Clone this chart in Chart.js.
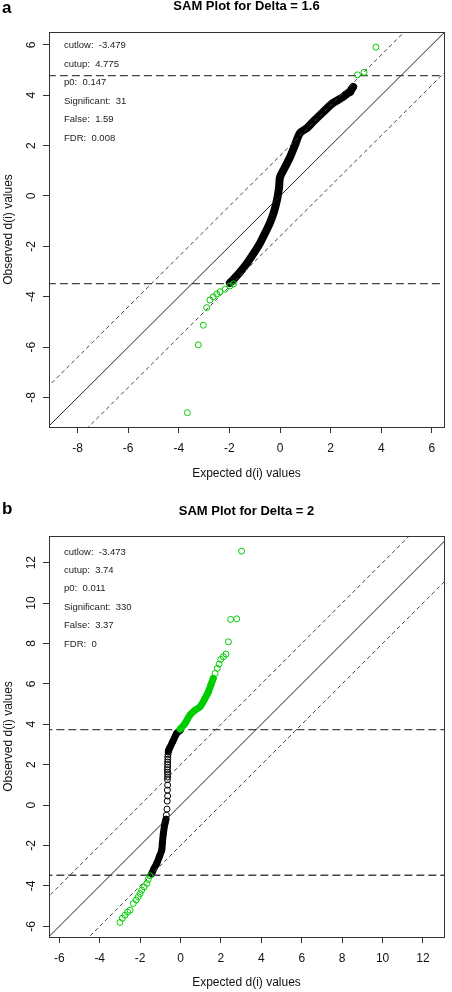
<!DOCTYPE html>
<html><head><meta charset="utf-8">
<script src="https://cdn.jsdelivr.net/npm/chart.js@4.4.1/dist/chart.umd.min.js"></script>
<style>
html,body{margin:0;padding:0;background:#fff;}
canvas{display:block;}
</style></head><body>
<canvas id="ca" width="452" height="490"></canvas>
<canvas id="cb" width="452" height="502"></canvas>
<script>
// ---------- Panel a ----------
const aLetter = 'a';
const aTitle = 'SAM Plot for Delta = 1.6';
const aDelta = 1.6;
const aCutlow = -3.479;
const aCutup = 4.775;
const aXLim = [-9.13, 6.48];
const aYLim = [-9.17, 6.51];
const aXTicks = [-8, -6, -4, -2, 0, 2, 4, 6];
const aYTicks = [-8, -6, -4, -2, 0, 2, 4, 6];
const aStatLabels = ['cutlow:', 'cutup:', 'p0:', 'Significant:', 'False:', 'FDR:'];
const aStatValues = ['-3.479', '4.775', '0.147', '31', '1.59', '0.008'];
const aNsExpected = [-1.98,-1.86,-1.58,-1.30,-1.03,-0.79,-0.59,-0.40,-0.24,-0.12,-0.04,0.00,0.20,0.40,0.59,0.79,1.07,1.30,1.70,2.09,2.49,2.60,2.70,2.77,2.83,2.89];
const aNsObserved = [-3.45,-3.33,-3.02,-2.66,-2.26,-1.87,-1.47,-1.07,-0.63,-0.16,0.32,0.75,1.15,1.55,2.02,2.50,2.70,2.94,3.33,3.69,3.93,4.02,4.10,4.13,4.24,4.33];
const aSigExpected = [3.06,3.32,3.79,-1.84,-1.98,-2.17,-2.37,-2.50,-2.64,-2.77,-2.90,-3.03,-3.23,-3.66];
const aSigObserved = [4.81,4.91,5.91,-3.49,-3.57,-3.70,-3.80,-3.89,-4.00,-4.13,-4.43,-5.13,-5.91,-8.60];

// ---------- Panel b ----------
const bLetter = 'b';
const bTitle = 'SAM Plot for Delta = 2';
const bDelta = 2;
const bCutlow = -3.473;
const bCutup = 3.74;
const bXLim = [-6.51, 13.04];
const bYLim = [-6.53, 13.32];
const bXTicks = [-6, -4, -2, 0, 2, 4, 6, 8, 10, 12];
const bYTicks = [-6, -4, -2, 0, 2, 4, 6, 8, 10, 12];
const bStatLabels = ['cutlow:', 'cutup:', 'p0:', 'Significant:', 'False:', 'FDR:'];
const bStatValues = ['-3.473', '3.74', '0.011', '330', '3.37', '0'];
const bNsUpperExpected = [-0.02,-0.19,-0.39,-0.55,-0.60];
const bNsUpperObserved = [3.70,3.55,3.13,2.80,2.68];
const bNsColumnExpected = [-0.61,-0.62,-0.63,-0.63,-0.64,-0.64,-0.64,-0.65,-0.64,-0.64,-0.64,-0.65,-0.64,-0.65,-0.64,-0.66,-0.67,-0.70];
const bNsColumnObserved = [2.62,2.51,2.38,2.26,2.13,2.01,1.88,1.75,1.63,1.52,1.39,1.26,0.99,0.74,0.45,0.20,-0.20,-0.50];
const bNsLowerExpected = [-0.72,-0.77,-0.85,-0.90,-0.93,-1.05,-1.18,-1.31,-1.43];
const bNsLowerObserved = [-0.70,-0.91,-1.40,-1.90,-2.23,-2.56,-2.89,-3.13,-3.40];
const bSigBandExpected = [-0.02,0.22,0.47,0.72,0.97,1.21,1.38,1.50,1.62];
const bSigBandObserved = [3.76,4.04,4.46,4.70,4.87,5.28,5.61,5.94,6.27];
const bSigUpperExpected = [1.71,1.82,1.91,1.99,2.12,2.25,2.37,2.48,2.78,3.02];
const bSigUpperObserved = [6.52,6.77,6.98,7.21,7.34,7.48,8.08,9.19,9.22,12.57];
const bSigLowerExpected = [-1.51,-1.60,-1.67,-1.80,-1.92,-2.00,-2.09,-2.20,-2.34,-2.50,-2.62,-2.75,-2.88,-3.00];
const bSigLowerObserved = [-3.50,-3.68,-3.88,-4.05,-4.21,-4.38,-4.54,-4.70,-4.87,-5.20,-5.30,-5.45,-5.60,-5.81];

const lineSpan = [-40, 40];

// ---------- helpers ----------
const FONT = '"Liberation Sans", Arial, Helvetica, sans-serif';
const GREEN = '#00cd00';
Chart.defaults.font.family = FONT;

const pts = (xs, ys) => xs.map((x, i) => ({x: x, y: ys[i]}));
const diag = off => lineSpan.map(v => ({x: v, y: v + off}));
const horiz = c => lineSpan.map(v => ({x: v, y: c}));

function circles(data, color) {
  return {data, showLine: false, pointRadius: 3, pointBorderWidth: 1,
    pointBorderColor: color, pointBackgroundColor: 'rgba(0,0,0,0)', pointStyle: 'circle'};
}
function band(data, color, width) {
  return {data, showLine: true, borderColor: color, borderWidth: width,
    borderCapStyle: 'round', borderJoinStyle: 'round', tension: 0.3,
    pointRadius: 3, pointBorderWidth: 1, pointBorderColor: color,
    pointBackgroundColor: 'rgba(0,0,0,0)'};
}
function refLine(data, dash, width, color) {
  return {data, showLine: true, borderColor: color, borderWidth: width,
    borderDash: dash, pointRadius: 0, tension: 0};
}

function makePlugin(letter, letterY, labels, values, dy, step) {
  return {
    id: 'annot' + letter,
    afterDraw(chart) {
      const ctx = chart.ctx, ca = chart.chartArea;
      const al = (p) => Math.round(p - 0.5) + 0.5;
      ctx.save();
      ctx.strokeStyle = '#333';
      ctx.lineWidth = 1;
      ctx.setLineDash([]);
      ctx.strokeRect(al(ca.left), al(ca.top), al(ca.right) - al(ca.left), al(ca.bottom) - al(ca.top));
      ctx.fillStyle = '#222';
      ctx.font = '9.5px ' + FONT;
      ctx.textBaseline = 'middle';
      ctx.textAlign = 'left';
      labels.forEach((l, i) => {
        ctx.fillText(l + '  ' + values[i], ca.left + 15, ca.top + dy + i * step);
      });
      ctx.fillStyle = '#000';
      ctx.font = 'bold 17px ' + FONT;
      ctx.fillText(letter, 2, letterY);
      ctx.restore();
    }
  };
}

function makeChart(id, o) {
  return new Chart(document.getElementById(id), {
    type: 'scatter',
    data: {datasets: o.datasets},
    plugins: [o.plugin],
    options: {
      responsive: false, animation: false, events: [],
      layout: {padding: {left: 0, right: 8, top: 0, bottom: 0}},
      plugins: {
        legend: {display: false}, tooltip: {enabled: false},
        title: {display: true, text: o.title, fullSize: false, color: '#000',
          font: {size: 13, weight: 'bold', family: FONT, lineHeight: 1},
          padding: {top: o.titleTop, bottom: o.titleBottom}}
      },
      scales: {
        x: {type: 'linear', position: 'bottom', min: o.xLim[0], max: o.xLim[1],
          afterBuildTicks: s => { s.ticks = o.xTicks.map(v => ({value: v})); },
          afterFit: s => { s.height = o.xAxisH; },
          grid: {drawOnChartArea: false, drawTicks: true, tickLength: 6, color: '#333', lineWidth: 1},
          border: {display: true, color: '#333', width: 1},
          ticks: {color: '#111', font: {size: 12, family: FONT}, padding: 8, maxRotation: 0, minRotation: 0,
            autoSkip: false, callback: v => String(v)},
          title: {display: true, text: 'Expected d(i) values', color: '#111',
            font: {size: 12, family: FONT}, padding: {top: 0, bottom: o.xTitleBottom}}
        },
        y: {type: 'linear', position: 'left', min: o.yLim[0], max: o.yLim[1],
          afterBuildTicks: s => { s.ticks = o.yTicks.map(v => ({value: v})); },
          afterFit: s => { s.width = 49; },
          grid: {drawOnChartArea: false, drawTicks: true, tickLength: 6, color: '#333', lineWidth: 1},
          border: {display: true, color: '#333', width: 1},
          ticks: {color: '#111', font: {size: 12, family: FONT}, padding: o.yTickPad, minRotation: 90, maxRotation: 90,
            crossAlign: 'center', autoSkip: false, callback: v => String(v)},
          title: {display: true, text: 'Observed d(i) values', color: '#111',
            font: {size: 12, family: FONT}, padding: {top: 1, bottom: 0}}
        }
      }
    }
  });
}

makeChart('ca', {
  title: aTitle, titleTop: 0, titleBottom: 19,
  xLim: aXLim, yLim: aYLim, xTicks: aXTicks, yTicks: aYTicks,
  xAxisH: 63, xTitleBottom: 9, yTickPad: 6,
  plugin: makePlugin(aLetter, 8, aStatLabels, aStatValues, 13.5, 18.5),
  datasets: [
    circles(pts(aSigExpected, aSigObserved), GREEN),
    refLine(horiz(aCutup), [8, 4], 1.3, '#444'),
    refLine(horiz(aCutlow), [8, 4], 1.3, '#444'),
    refLine(diag(aDelta), [4, 3], 1, '#444'),
    refLine(diag(-aDelta), [4, 3], 1, '#444'),
    refLine(diag(0), [], 1, '#222'),
    band(pts(aNsExpected, aNsObserved), '#000', 8)
  ]
});

makeChart('cb', {
  title: bTitle, titleTop: 14.5, titleBottom: 18.5,
  xLim: bXLim, yLim: bYLim, xTicks: bXTicks, yTicks: bYTicks,
  xAxisH: 55, xTitleBottom: 2, yTickPad: 5,
  plugin: makePlugin(bLetter, 19, bStatLabels, bStatValues, 16, 18.4),
  datasets: [
    band(pts(bSigBandExpected, bSigBandObserved), GREEN, 7),
    circles(pts(bSigUpperExpected, bSigUpperObserved), GREEN),
    circles(pts(bSigLowerExpected, bSigLowerObserved), GREEN),
    refLine(horiz(bCutup), [8, 4], 1.3, '#444'),
    refLine(horiz(bCutlow), [8, 4], 1.3, '#444'),
    refLine(diag(bDelta), [4, 3], 1, '#444'),
    refLine(diag(-bDelta), [4, 3], 1, '#444'),
    refLine(diag(0), [], 1, '#222'),
    band(pts(bNsUpperExpected, bNsUpperObserved), '#000', 7),
    circles(pts(bNsColumnExpected, bNsColumnObserved), '#000'),
    band(pts(bNsLowerExpected, bNsLowerObserved), '#000', 7)
  ]
});
</script>
</body></html>
